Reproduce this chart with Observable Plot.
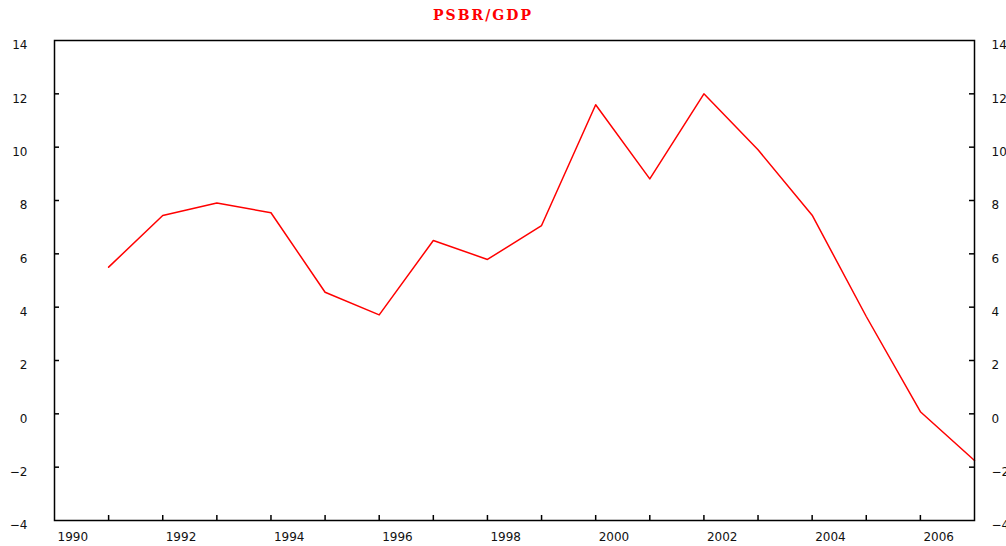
<!DOCTYPE html>
<html>
<head>
<meta charset="utf-8">
<script src="https://cdn.jsdelivr.net/npm/d3@7"></script>
<script src="https://cdn.jsdelivr.net/npm/@observablehq/plot@0.6"></script>
<style>
  html, body { margin: 0; padding: 0; background: #fff; }
  #wrap { position: relative; width: 1006px; height: 546px; overflow: hidden; }
  #title { height: 30px; position: relative; }
  #title span { position: absolute; left: 483px; top: 7px; transform: translateX(-50%);
    font-family: "DejaVu Serif", serif; font-weight: bold; font-size: 14px; letter-spacing: 2px; color: #ff0000; white-space: nowrap; }
  svg { display: block; }
</style>
</head>
<body>
<div id="wrap">
  <div id="title"><span>PSBR/GDP</span></div>
  <div id="chart"></div>
</div>
<script>
const titleText = "PSBR/GDP";
const years = [1991, 1992, 1993, 1994, 1995, 1996, 1997, 1998, 1999, 2000, 2001, 2002, 2003, 2004, 2005, 2006, 2007];
const values = [5.5, 7.44, 7.91, 7.54, 4.56, 3.71, 6.5, 5.79, 7.06, 11.59, 8.81, 12.0, 9.9, 7.45, 3.65, 0.08, -1.75];
const yTicks = [-4, -2, 0, 2, 4, 6, 8, 10, 12, 14];
const xLabelTicks = [1990, 1992, 1994, 1996, 1998, 2000, 2002, 2004, 2006];
const xMinorTicks = [1991, 1992, 1993, 1994, 1995, 1996, 1997, 1998, 1999, 2000, 2001, 2002, 2003, 2004, 2005, 2006];

document.querySelector("#title span").textContent = titleText;

const data = years.map((y, i) => ({year: y, value: values[i]}));
const xDomain = [1990, 2007];
const yDomain = [-4, 14];
const innerTicksY = yTicks.slice(1, -1);

const chart = Plot.plot({
  width: 1006,
  height: 516,
  marginTop: 10,
  marginBottom: 26,
  marginLeft: 54,
  marginRight: 32,
  style: {fontFamily: "DejaVu Sans, sans-serif", fontSize: "12px", color: "#111", background: "#fff"},
  x: {domain: xDomain},
  y: {domain: yDomain},
  marks: [
    Plot.axisY(yTicks, {anchor: "left", tickSize: 0, tickPadding: 27, dy: 5, label: null}),
    Plot.axisY(yTicks, {anchor: "right", tickSize: 0, tickPadding: 17, dy: 5, label: null}),
    Plot.axisX(xLabelTicks, {anchor: "bottom", tickSize: 0, tickPadding: 12, textAnchor: "start", dx: 3, tickFormat: d => String(d), label: null}),
    Plot.ruleY(innerTicksY, {y: d => d, x1: xDomain[0], x2: xDomain[0], insetRight: -5, stroke: "#000", strokeWidth: 1.5}),
    Plot.ruleY(innerTicksY, {y: d => d, x1: xDomain[1], x2: xDomain[1], insetLeft: -5, stroke: "#000", strokeWidth: 1.5}),
    Plot.ruleX(xMinorTicks, {x: d => d, y1: yDomain[0], y2: yDomain[0], insetTop: -5, stroke: "#000", strokeWidth: 1.5}),
    Plot.line(data, {x: "year", y: "value", stroke: "#ff0000", strokeWidth: 1.5}),
    Plot.frame({stroke: "#000", strokeWidth: 1.5})
  ]
});
document.getElementById("chart").appendChild(chart);
</script>
</body>
</html>
